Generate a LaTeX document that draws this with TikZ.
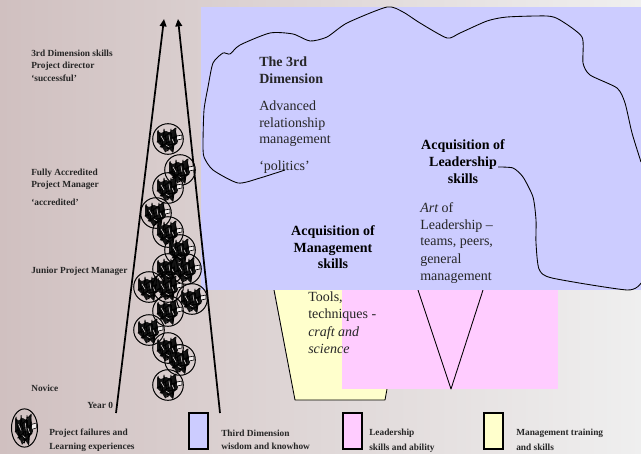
\documentclass[tikz,border=0pt]{standalone}
\usepackage{fontspec}
\setmainfont{Liberation Serif}
\usetikzlibrary{arrows.meta}
\definecolor{bgl}{HTML}{D0C0C0}
\definecolor{bgr}{HTML}{EFEFEF}
\definecolor{blu}{HTML}{CCCCFF}
\definecolor{pnk}{HTML}{FFCCFF}
\definecolor{ylw}{HTML}{FFFFCC}
\tikzset{
  x=0.75pt,y=-0.75pt,
  small/.style={anchor=base west,inner sep=0pt,font=\fontsize{7pt}{8pt}\selectfont\bfseries,text=black!85},
  big/.style={anchor=base west,inner sep=0pt,font=\fontsize{10.5pt}{12pt}\selectfont,text=black!85},
  bigc/.style={anchor=base,inner sep=0pt,font=\fontsize{10.5pt}{12pt}\selectfont\bfseries},
  keybox/.style={draw=black,line width=0.8pt},
  outline/.style={draw=black,line width=0.65pt,line join=round},
  rise/.style={draw=black,line width=1.3pt,-{Triangle[length=5.5pt,width=5pt]}}
}
\newcommand{\blobmarks}{%
  \fill[black!92] (-11,-8) -- (-7,-6) -- (-2,-8) -- (3,-6) -- (7,-11) -- (9,-3) -- (10,3) -- (5,7) -- (5,14) -- (0,9) -- (-3,13) -- (-6,8) -- (-11,3) -- cycle;
  \draw[line width=0.6pt,line join=round] (-10,-9) -- (-6,9) -- (-4,-10) -- (0,12) -- (3,-10) -- (5,13) -- (8,-11) -- (-11,3) -- (10,-3) -- (-8,8) -- (9,4) -- (-3,13);
  \draw[line width=0.45pt,fill=white!70!bgl] (9,-3) -- (14,-4) -- (14,0) -- (9,1);
  \draw[line width=0.4pt,draw=white!55!bgl] (-7,-3) -- (-4,2) (1,-4) -- (2,2) (-2,6) -- (1,8) (4,0) -- (6,4);}
\newcommand{\scribble}[2]{%
  \begin{scope}[shift={(#1,#2)}]
    \draw[line width=0.75pt] (0,0) circle[radius=15.3];
    \blobmarks
  \end{scope}}
\begin{document}
\begin{tikzpicture}
\useasboundingbox (0,0) rectangle (641,453);
\shade[left color=bgl,right color=bgr] (0,0) rectangle (641,453);
% yellow and pink panels
\fill[ylw] (273,280) -- (295,400) -- (385,400) -- (390,380) -- (390,280) -- cycle;
\draw[outline] (274,290) -- (295,400) -- (385,400) -- (387,389);
\fill[pnk] (342,280) rectangle (558,389);
\draw[outline] (418,290) -- (451,389) -- (483,290);
% blue panel
\fill[blu] (201,7) rectangle (641,290);
% cloud
\draw[outline] plot[smooth,tension=0.4] coordinates {(285,170) (260,178) (238,183) (213,170) (204,157) (203,143) (204,110) (208,87) (213,63) (223,53) (230,54) (240,45) (270,33) (293,34) (310,41) (327,37) (347,23) (387,7) (403,12) (420,23) (447,38) (460,33) (487,21) (507,17) (547,16) (560,20) (582,37) (583,63) (590,75) (617,88) (625,103) (632,133) (641,162)};
\draw[outline] plot[smooth,tension=0.4] coordinates {(498,167) (513,168) (523,177) (533,197) (536,220) (536,243) (539,269) (552,278) (627,290) (641,283)};
% arrows
\coordinate (la) at (116,413); \coordinate (lb) at (164,19);
\coordinate (ra) at (220,413); \coordinate (rb) at (178,19);
\draw[rise] (la) -- (lb);
\draw[rise] (ra) -- (rb);
% failures
\scribble{168}{139}\scribble{180}{170}\scribble{168}{188}\scribble{156}{213}
\scribble{168}{232}\scribble{180}{250}\scribble{168}{269}\scribble{186}{269}
\scribble{149}{287}\scribble{168}{287}\scribble{192}{299}\scribble{168}{311}
\scribble{149}{330}\scribble{168}{348}\scribble{180}{360}\scribble{168}{385}
% left labels
\node[small] (a1) at (31,56) {3rd Dimension skills};
\node[small] (a2) at (31,69) {Project director};
\node[small] (a3) at (31,81) {‘successful’};
\node[small] (b1) at (31,175) {Fully Accredited};
\node[small] (b2) at (31,187) {Project Manager};
\node[small] (b3) at (31,205) {‘accredited’};
\node[small] (c1) at (31,273) {Junior Project Manager};
\node[small] (d1) at (31,391) {Novice};
\node[small] (y0) at (87,408) {Year 0};
% big text
\node[big,font=\fontsize{10.5pt}{12pt}\selectfont\bfseries] (t1) at (259,66) {The 3rd};
\node[big,font=\fontsize{10.5pt}{12pt}\selectfont\bfseries] (t2) at (259,83) {Dimension};
\node[big] (t3) at (259,110) {Advanced};
\node[big] (t4) at (259,127) {relationship};
\node[big] (t5) at (259,143) {management};
\node[big] (t6) at (259,170) {‘politics’};
\node[bigc] (l1) at (463,149) {Acquisition of};
\node[bigc] (l2) at (463,166) {Leadership};
\node[bigc] (l3) at (463,183) {skills};
\node[big] (l4) at (420,212) {\itshape Art \upshape of};
\node[big] (l5) at (420,229) {Leadership –};
\node[big] (l6) at (420,245) {teams, peers,};
\node[big] (l7) at (420,263) {general};
\node[big] (l8) at (420,280) {management};
\node[bigc] (m1) at (333,235) {Acquisition of};
\node[bigc] (m2) at (333,252) {Management};
\node[bigc] (m3) at (333,268) {skills};
\node[big] (m4) at (308,301) {Tools,};
\node[big] (m5) at (308,318) {techniques -};
\node[big] (m6) at (308,336) {\itshape craft and};
\node[big] (m7) at (308,353) {\itshape science};
% legend
\begin{scope}[shift={(24.5,428)},yscale=1.25,xscale=0.85]
  \draw[line width=0.75pt] (0,0) circle[radius=15.3];
  \blobmarks
\end{scope}
\node[small] (k1) at (49,435) {Project failures and};
\node[small] (k2) at (49,449) {Learning experiences};
\draw[keybox,fill=blu] (189,413) rectangle (208,449);
\node[small] (k3) at (221,436) {Third Dimension};
\node[small] (k4) at (221,449) {wisdom and knowhow};
\draw[keybox,fill=pnk] (343,413) rectangle (362,449);
\node[small] (k5) at (369,435) {Leadership};
\node[small] (k6) at (369,450) {skills and ability};
\draw[keybox,fill=ylw] (484,413) rectangle (503,449);
\node[small] (k7) at (516,435) {Management training};
\node[small] (k8) at (516,450) {and skills};
\end{tikzpicture}
\end{document}
